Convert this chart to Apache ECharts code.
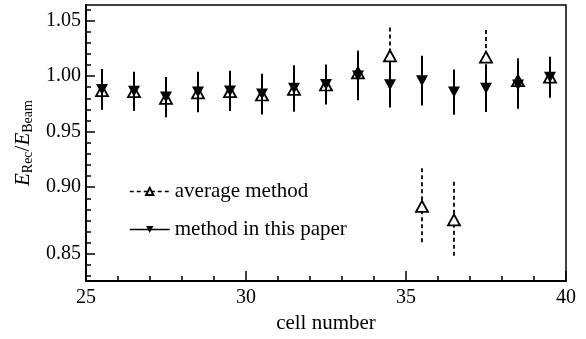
<!DOCTYPE html>
<html>
<head>
<meta charset="utf-8">
<script src="https://cdn.jsdelivr.net/npm/echarts@6/dist/echarts.min.js"></script>
<style>
  html, body { margin: 0; padding: 0; background: #fff; }
  #chart { width: 586px; height: 339px; }
</style>
</head>
<body>
<div id="chart"></div>
<script>
// cell positions (centres of the cells)
var cells = [25.5, 26.5, 27.5, 28.5, 29.5, 30.5, 31.5, 32.5, 33.5, 34.5, 35.5, 36.5, 37.5, 38.5, 39.5];

// method in this paper
var paperVals = [0.988, 0.9864, 0.9811, 0.9857, 0.9867, 0.9838, 0.9891, 0.9924, 1.000, 0.9922, 0.9959, 0.9856, 0.9891, 0.992, 0.999];
var paperErr = [0.0183, 0.0175, 0.018, 0.0182, 0.0182, 0.0183, 0.0206, 0.018, 0.0217, 0.0205, 0.0224, 0.0204, 0.0215, 0.0214, 0.0185];

// average method
var avgVals = [0.987, 0.986, 0.980, 0.985, 0.986, 0.983, 0.988, 0.992, 1.003, 1.0183, 0.8828, 0.8706, 1.017, 0.996, 0.999];
var avgErr = [0.018, 0.017, 0.018, 0.018, 0.018, 0.018, 0.02, 0.018, 0.02, 0.0254, 0.0343, 0.0344, 0.0244, 0.02, 0.018];

// axis ticks
var xTicks = [25, 30, 35, 40];
var yMajor = [0.84, 0.90, 0.95, 1.00, 1.05];
var yMajorLabels = ["0.85", "0.90", "0.95", "1.00", "1.05"];

var yMinor = [];
for (var k = 82; k <= 106; k++) {
  var v = k / 100;
  if (yMajor.indexOf(v) < 0) yMinor.push(v);
}

var serif = "Liberation Serif";

function errData(xs, ys, es) {
  return xs.map(function (x, i) { return [x, ys[i], es[i]]; });
}
function ptData(xs, ys) {
  return xs.map(function (x, i) { return [x, ys[i]]; });
}

function errBar(dash, width) {
  return function (params, api) {
    var x = api.value(0), y = api.value(1), e = api.value(2);
    var top = api.coord([x, y + e]);
    var bot = api.coord([x, y - e]);
    return {
      type: "line",
      shape: { x1: top[0], y1: top[1], x2: bot[0], y2: bot[1] },
      style: { stroke: "#000", lineWidth: width, lineDash: dash }
    };
  };
}

var myChart = echarts.init(document.getElementById("chart"));
var option = {
  animation: false,
  grid: {
    left: 86, right: 20, top: 5, bottom: 54,
    show: true, borderColor: "#000", borderWidth: 1.5
  },
  legend: {
    orient: "vertical",
    left: 124,
    top: 176,
    itemWidth: 40,
    itemHeight: 9,
    itemGap: 17,
    textStyle: { fontFamily: serif, fontSize: 21, color: "#000" },
    data: [
      { name: "average method", lineStyle: { opacity: 1, width: 1.5, color: "#000", type: [4, 3] } },
      { name: "method in this paper", lineStyle: { opacity: 1, width: 1.5, color: "#000", type: "solid" } }
    ]
  },
  xAxis: {
    type: "value",
    min: 25, max: 40, interval: 5,
    name: "cell number",
    nameLocation: "middle",
    nameGap: 30,
    nameTextStyle: { fontFamily: serif, fontSize: 21, color: "#000" },
    axisLine: { lineStyle: { color: "#000", width: 2 } },
    axisTick: { inside: true, length: 10, lineStyle: { color: "#000", width: 1.5 } },
    minorTick: { show: true, splitNumber: 5, length: 5, lineStyle: { color: "#000", width: 1.5 } },
    axisLabel: { fontFamily: serif, fontSize: 20, color: "#000", margin: 7,
      customValues: xTicks },
    splitLine: { show: false }
  },
  yAxis: [
    {
      type: "value",
      min: 0.8155, max: 1.064,
      name: "{i|E}{s|Rec}{n|/}{i|E}{s|Beam}",
      nameLocation: "middle",
      nameGap: 49,
      nameRotate: 90,
      nameTextStyle: {
        color: "#000",
        rich: {
          i: { fontFamily: serif, fontSize: 21, fontStyle: "italic", color: "#000", lineHeight: 24 },
          n: { fontFamily: serif, fontSize: 21, color: "#000", lineHeight: 24 },
          s: { fontFamily: serif, fontSize: 14, color: "#000", lineHeight: 24, verticalAlign: "bottom", padding: [8, 0, 0, 0] }
        }
      },
      axisLine: { show: true, lineStyle: { color: "#000", width: 2 } },
      axisTick: { inside: true, length: 9, customValues: yMajor, lineStyle: { color: "#000", width: 1.5 } },
      axisLabel: {
        fontFamily: serif, fontSize: 20, color: "#000", margin: 5,
        customValues: yMajor,
        formatter: function (v) {
          for (var i = 0; i < yMajor.length; i++) {
            if (Math.abs(yMajor[i] - v) < 1e-6) return yMajorLabels[i];
          }
          return "";
        }
      },
      splitLine: { show: false }
    },
    {
      type: "value",
      min: 0.8155, max: 1.064,
      position: "left",
      axisLine: { show: false },
      axisTick: { show: true, inside: true, length: 5, customValues: yMinor, lineStyle: { color: "#000", width: 1.5 } },
      axisLabel: { show: false },
      splitLine: { show: false }
    }
  ],
  series: [
    {
      name: "avg err",
      type: "custom",
      z: 1,
      renderItem: errBar([4, 3], 1.8),
      data: errData(cells, avgVals, avgErr)
    },
    {
      name: "average method",
      type: "line",
      z: 2,
      symbol: "triangle",
      symbolSize: [12, 11],
      itemStyle: { color: "#fff", borderColor: "#000", borderWidth: 1.8 },
      lineStyle: { opacity: 0 },
      data: ptData(cells, avgVals)
    },
    {
      name: "paper err",
      type: "custom",
      z: 3,
      renderItem: errBar(null, 2),
      data: errData(cells, paperVals, paperErr)
    },
    {
      name: "method in this paper",
      type: "line",
      z: 4,
      symbol: "triangle",
      symbolRotate: 180,
      symbolSize: [12, 11],
      itemStyle: { color: "#000", borderColor: "#000", borderWidth: 0 },
      lineStyle: { opacity: 0 },
      data: ptData(cells, paperVals)
    }
  ]
};
myChart.setOption(option);
</script>
</body>
</html>
